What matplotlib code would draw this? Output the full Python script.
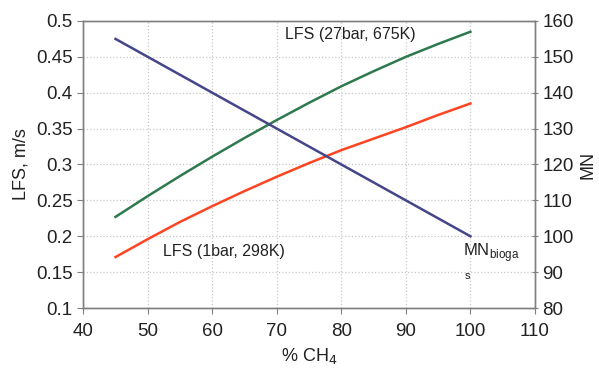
import matplotlib.pyplot as plt

plt.rcParams['font.family'] = ['Liberation Sans', 'DejaVu Sans']

# % CH4
ch4 = [45, 50, 55, 60, 65, 70, 75, 80, 85, 90, 95, 100]
# LFS at 27 bar, 675 K (m/s)
lfs_hot = [0.227, 0.256, 0.284, 0.311, 0.337, 0.362, 0.386, 0.409, 0.430, 0.450, 0.468, 0.485]
# LFS at 1 bar, 298 K (m/s)
lfs_cold = [0.171, 0.196, 0.220, 0.242, 0.263, 0.283, 0.302, 0.320, 0.336, 0.352, 0.369, 0.385]
# methane number of biogas
mn_x = [45, 100]
mn = [155, 100]

grey = '#808080'
txt = '#222222'

fig, ax = plt.subplots(figsize=(5.99, 3.68), dpi=100)
fig.subplots_adjust(left=0.139, right=0.893, top=0.943, bottom=0.163)
ax2 = ax.twinx()

ax.plot(ch4, lfs_hot, color='#2e7a4e', lw=1.8)
ax.plot(ch4, lfs_cold, color='#ff4422', lw=1.8)
ax2.plot(mn_x, mn, color='#45458a', lw=1.8)

ax.set_xlim(40, 110)
ax.set_ylim(0.1, 0.5)
ax2.set_ylim(80, 160)
ax.set_xticks(range(40, 111, 10))
ax.set_yticks([0.1, 0.15, 0.2, 0.25, 0.3, 0.35, 0.4, 0.45, 0.5])
ax.set_yticklabels(['0.1', '0.15', '0.2', '0.25', '0.3', '0.35', '0.4', '0.45', '0.5'])
ax2.set_yticks(range(80, 161, 10))

ax.grid(True, color='#c8c8c8', linestyle=':', linewidth=0.9)
ax.set_axisbelow(True)

for a in (ax, ax2):
    for s in a.spines.values():
        s.set_color(grey)
        s.set_linewidth(1.0)
ax.tick_params(axis='both', colors=grey, labelcolor=txt, labelsize=13.5, length=4)
ax.tick_params(axis='x', pad=7)
ax2.tick_params(axis='y', colors=grey, labelcolor=txt, labelsize=13.5, length=4, direction='inout')

ax.set_xlabel('% CH$_4$', fontsize=13, color=txt, labelpad=4)
ax.set_ylabel('LFS, m/s', fontsize=13, color=txt, labelpad=5)
ax2.set_ylabel('MN', fontsize=13, color=txt, labelpad=4)

ax.text(71.2, 0.475, 'LFS (27bar, 675K)', fontsize=11.5, color=txt)
ax.text(52.4, 0.172, 'LFS (1bar, 298K)', fontsize=11.5, color=txt)
ax.text(98.8, 0.172, 'MN$_{\\mathregular{bioga}}$', fontsize=12, color=txt)
ax.text(99.2, 0.141, 's', fontsize=8, color=txt)

plt.savefig('out.png', dpi=100)
